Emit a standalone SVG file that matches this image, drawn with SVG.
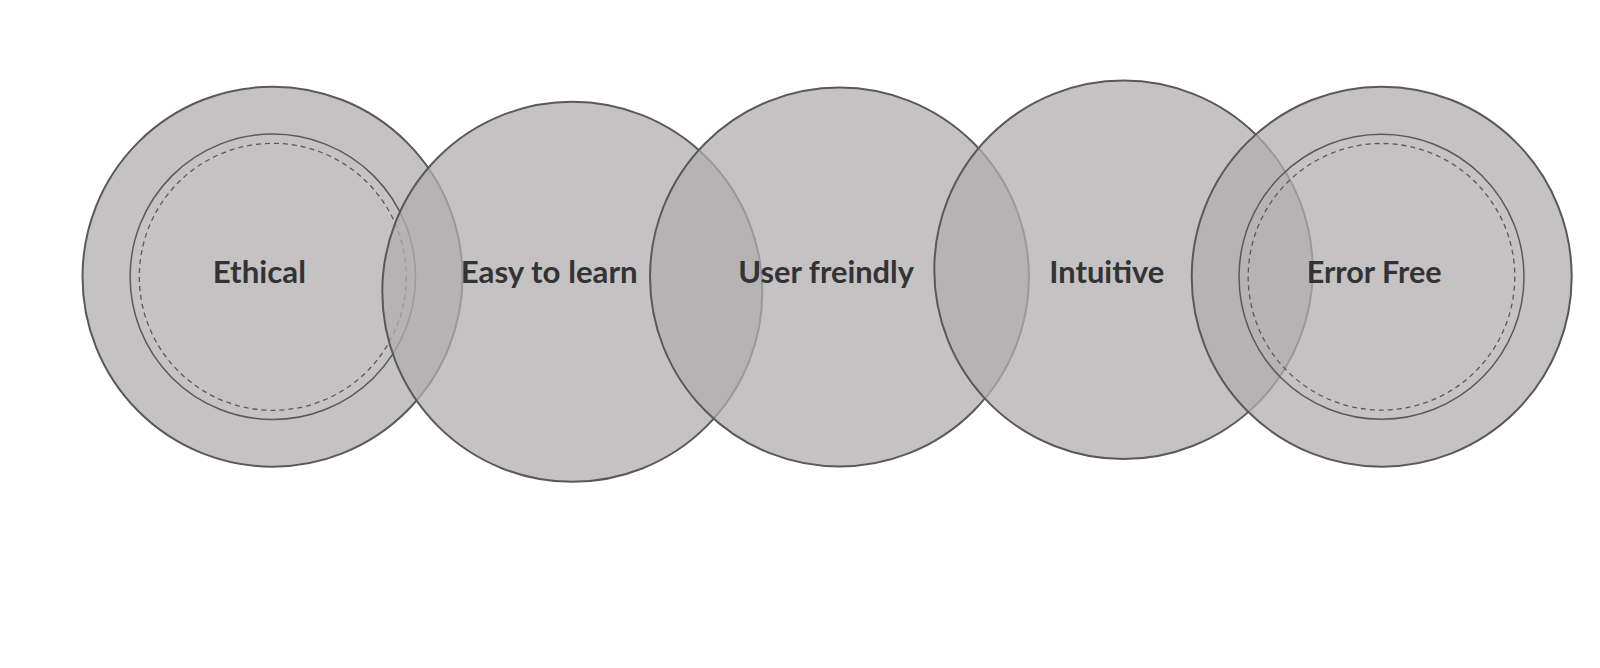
<svg xmlns="http://www.w3.org/2000/svg" width="1600" height="668" viewBox="0 0 1600 668">
<style>
.c{fill:#b0aeaf;fill-opacity:0.75;stroke:#595959;stroke-width:2}
.in{fill:none;stroke:#595959;stroke-width:1.5}
.ds{fill:none;stroke:#595959;stroke-width:1.3;stroke-dasharray:5 4}
.t{font-family:Lato,"Open Sans","Liberation Sans",sans-serif;font-weight:700;font-size:30px;fill:#333333}
</style>
<rect width="1600" height="668" fill="#ffffff"/>
<g id="ethical">
<circle class="c" cx="272.5" cy="276.7" r="190"/>
<circle class="in" cx="272.8" cy="276.8" r="142.7"/>
<circle class="ds" cx="272.8" cy="276.8" r="133.5"/>
<text class="t" x="212.7" y="283.3" textLength="93.3" lengthAdjust="spacingAndGlyphs">Ethical</text>
</g>
<g id="easy">
<circle class="c" cx="572.3" cy="291.8" r="190"/>
<text class="t" x="460.7" y="283.3" textLength="177" lengthAdjust="spacingAndGlyphs">Easy to learn</text>
</g>
<g id="user">
<circle class="c" cx="839.5" cy="277" r="189.5"/>
<text class="t" x="738.3" y="283.3" textLength="175.7" lengthAdjust="spacingAndGlyphs">User freindly</text>
</g>
<g id="intuitive">
<circle class="c" cx="1123.5" cy="269.8" r="189.2"/>
<text class="t" x="1049.3" y="282.7" textLength="115" lengthAdjust="spacingAndGlyphs">Intuitive</text>
</g>
<g id="errorfree">
<circle class="c" cx="1381.7" cy="276.7" r="190"/>
<circle class="in" cx="1381.5" cy="276.8" r="142.5"/>
<circle class="ds" cx="1381.5" cy="276.8" r="133.3"/>
<text class="t" x="1306.7" y="282.7" textLength="135" lengthAdjust="spacingAndGlyphs">Error Free</text>
</g>
<g id="connectors"></g>
</svg>
